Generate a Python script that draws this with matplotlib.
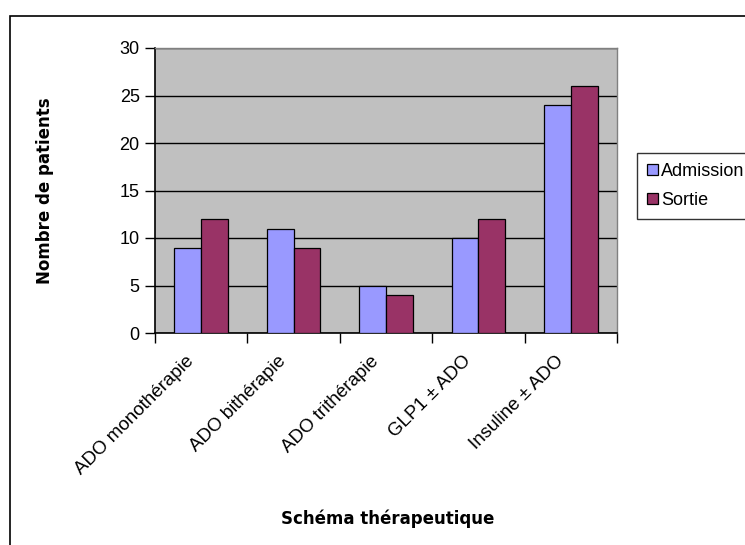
import matplotlib.pyplot as plt
import matplotlib.transforms as mtrans
import numpy as np
from matplotlib.patches import Rectangle

plt.rcParams['font.family'] = ['Liberation Sans', 'DejaVu Sans']

categories = ['ADO monothérapie', 'ADO bithérapie', 'ADO trithérapie',
              'GLP1 ± ADO', 'Insuline ± ADO']
admission = [9, 11, 5, 10, 24]
sortie = [12, 9, 4, 12, 26]

W, H = 745, 545
fig = plt.figure(figsize=(7.45, 5.45), dpi=100)

# outer chart border (cut off on right and bottom like the original)
fig.patches.append(Rectangle((10 / W, -0.01), 1.0, 1 - 16 / H + 0.01,
                             transform=fig.transFigure, fill=False,
                             edgecolor='black', linewidth=1.2))

ax = fig.add_axes([155 / W, 1 - 333 / H, (617 - 155) / W, (333 - 48) / H])
ax.set_facecolor('#C0C0C0')

x = np.arange(len(categories))
bw = 0.29
ax.bar(x - bw / 2, admission, bw, color='#9999FF', edgecolor='black',
       linewidth=0.9, label='Admission', zorder=3)
ax.bar(x + bw / 2, sortie, bw, color='#993366', edgecolor='black',
       linewidth=0.9, label='Sortie', zorder=3)

ax.set_xlim(-0.5, len(categories) - 0.5)
ax.set_ylim(0, 30)
ax.set_yticks(range(0, 31, 5))
ax.yaxis.grid(True, color='black', linewidth=1.0, zorder=1)
ax.set_axisbelow(True)

ax.set_xticks(np.arange(-0.5, len(categories), 1.0))
ax.set_xticklabels([])
ax.set_xticks(x, minor=True)
ax.set_xticklabels(categories, minor=True, rotation=45, ha='right',
                   va='top', rotation_mode='anchor', fontsize=13.5)
ax.tick_params(axis='x', which='minor', length=0, pad=14)
ax.tick_params(axis='x', which='major', length=7, width=1, direction='out')
ax.tick_params(axis='y', length=7, width=1, direction='out', labelsize=13, pad=4)

# nudge the rotated labels left so their ends sit under the bar groups
shift = mtrans.ScaledTranslation(-16 / 100, 0, fig.dpi_scale_trans)
for lab in ax.get_xticklabels(minor=True):
    lab.set_transform(lab.get_transform() + shift)

for s in ['top', 'right']:
    ax.spines[s].set_color('#808080')
    ax.spines[s].set_linewidth(1.0)
for s in ['left', 'bottom']:
    ax.spines[s].set_color('black')
    ax.spines[s].set_linewidth(1.2)

fig.text(45 / W, 1 - 191 / H, 'Nombre de patients', rotation=90,
         ha='center', va='center', fontsize=12, fontweight='bold',
         family='DejaVu Sans')
fig.text(388 / W, 1 - 519 / H, 'Schéma thérapeutique',
         ha='center', va='center', fontsize=12, fontweight='bold',
         family='DejaVu Sans')

leg = fig.legend(loc='upper left', bbox_to_anchor=(637 / W, 1 - 153 / H),
                 fontsize=13, frameon=True, fancybox=False, edgecolor='black',
                 handlelength=0.6, handleheight=0.6, handletextpad=0.2,
                 borderpad=0.55, labelspacing=0.65, borderaxespad=0)
leg.get_frame().set_linewidth(1.0)

fig.savefig('out.png', dpi=100)
